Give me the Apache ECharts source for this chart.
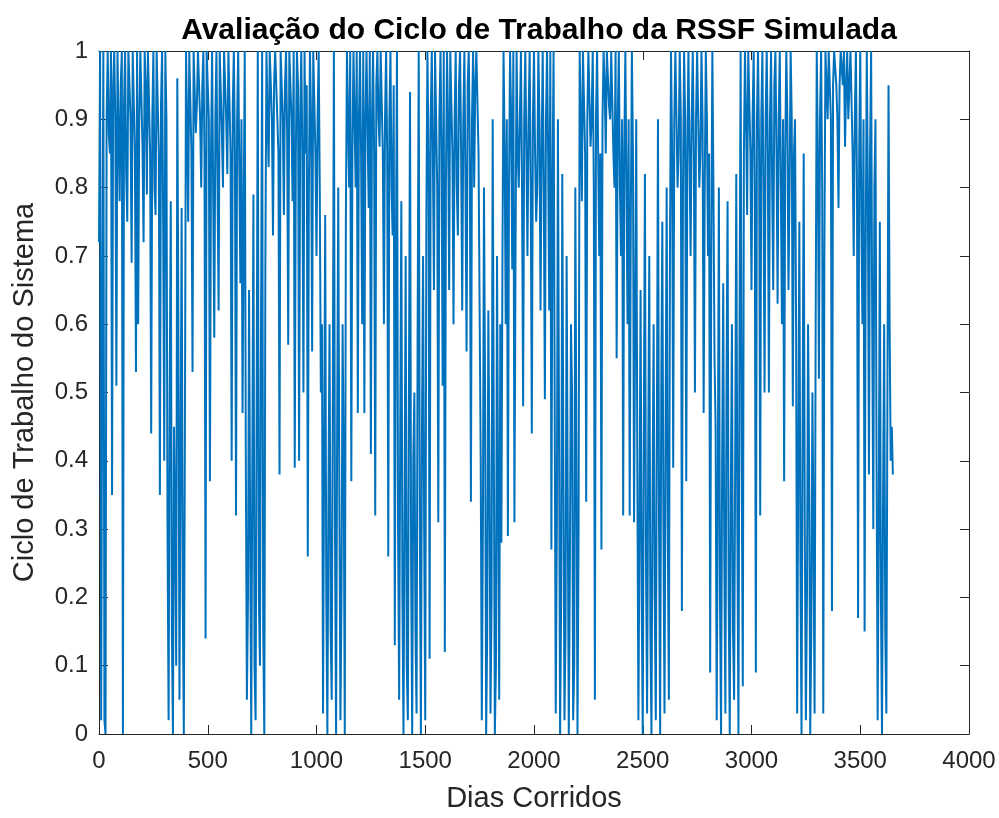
<!DOCTYPE html>
<html>
<head>
<meta charset="utf-8">
<script src="https://cdn.jsdelivr.net/npm/echarts@6/dist/echarts.min.js"></script>
<style>
html,body{margin:0;padding:0;background:#fff;}
#chart{width:999px;height:818px;}
</style>
</head>
<body>
<div id="chart"></div>
<script>
// Duty-cycle values.
// yearN: values on days 0,10,20,... ; midN: values on days 5,15,25,...
const dayStep = 10;
const year1 = [0.72,0.02,1,0,1,0.85,0.35,1,0.51,1,0.95,0,1,0.75,1,0.69,1,0.53,0.6,1,0.86,1,0.79,1,0.44,1,0.76,1,0.35,1,0.4,0.9,0.02,0.78,0,0.3,0.96];
const mid1  = [1,0.6,0.02,0.9,0.88,1,0.95,0.9,1,0.78,1,0.92,0.82,1,0.9,1,0.85,1,0.9,1,0.72,0.95,1,0.85,0.9,0.8,1,0.85,0.92,0.75,1,0.3,0.5,0.15,0.45,0.1,0.6];
const year2 = [0.05,0.77,0,1,0.75,1,0.53,1,0.92,1,0.8,1,0.14,1,0.37,1,0.58,1,0.62,1,0.8,1,0.82,1,0.4,1,0.32,1,0.66,0.47,1,0.05,0.65,0,0.79,0.02,1];
const mid2  = [0.4,0.2,0.45,0.9,1,0.85,1,0.88,1,0.9,0.95,0.85,1,0.9,0.85,1,0.9,0.8,1,0.88,1,0.9,1,0.85,0.92,0.85,0.9,1,0.9,0.75,0.4,0.2,0.3,0.4,0.1,0.5,0.2];
const year3 = [0.1,1,0,1,0.83,1,0.73,1,0.9,0.38,1,0.76,1,0.57,1,0.78,0.39,1,0.4,1,0.5,0.85,0.26,1,0.56,1,0.7,1,0.5,0.03,0.76,0,0.6,0.05,1,0,0.8];
const mid3  = [0.6,0.15,0.7,0.9,1,0.9,0.95,1,0.85,1,0.9,0.95,0.88,1,0.9,1,0.85,0.95,0.9,0.85,1,0.95,0.8,0.9,1,0.85,0.9,0.8,0.6,0.4,0.2,0.35,0.15,0.5,0.3,0.45,0.35];
const year4 = [0.02,0.6,0,1,0.8,0.37,1,0.8,0.47,1,0.6,0.47,1,0.77,0.41,1,0.32,1,0.86,1,0.6,1,0.26,1,0.73,0.13,1,0.05,0.78,0,0.7,0.02,0.94,0,0.5,0.03,1];
const mid4  = [0.2,0.4,0.75,0.9,1,0.85,0.9,1,0.9,0.85,1,0.9,0.88,1,0.9,0.85,0.95,0.9,1,0.85,0.9,0.85,0.9,0.8,0.95,0.7,0.3,0.45,0.2,0.35,0.1,0.5,0.25,0.4,0.15,0.6,0.3];
const year5 = [0,0.7,0.02,1,0.11,1,0.65,1,0.31,1,0.51,0.12,1,0.65,1,0.6,1,0.73,1,0.62,1,0.56,1,0.34,1,0.95,1,0.62,0.02,0.8,0,0.62,0.03,0.9,0,0.7,0.05];
const mid5  = [0.45,0.3,0.75,0.85,0.9,0.85,1,0.8,0.9,0.85,1,0.8,0.9,1,0.85,0.9,0.8,0.95,0.85,0.9,0.8,0.95,0.85,0.9,0.8,1,0.85,0.4,0.3,0.5,0.15,0.4,0.2,0.45,0.1,0.35,0.6];
const year6 = [0.28,1,0.6,0.29,1,0.68,0.31,1,0.8,1,0.48,1,0.7,1,0.44,1,0.75,1,0.62,1,0.49,1,0.62,0.27,1,0.03,0.9,0,0.82,0.02,0.7,0,0.6,0.02,0.8,0,1];
const mid6  = [0.7,0.85,0.9,0.8,0.9,1,0.7,0.85,0.9,0.8,0.9,0.85,0.9,0.8,0.9,0.85,0.8,0.9,0.85,0.8,0.9,0.85,1,0.8,0.5,0.3,0.45,0.2,0.4,0.15,0.35,0.25,0.5,0.1,0.4,0.3,0.9];
const year7 = [0.78,1,0.34,1,0.86,1,0.05,1,0.7,0.27,1,0.85,1,0.9,1,0.8,0.55,1,0.7,0.32,1,0.6,0.32,1,0.31,0.9,0.02,0.65,0,0.82,0.03,0.7,0,0.6,0.02,0.9,0];
const mid7  = [1,0.85,0.9,1,0.9,0.8,0.9,1,0.85,0.9,0.95,1,0.92,1,0.85,1,0.9,0.8,0.9,0.85,0.8,0.9,0.75,0.85,0.6,0.4,0.3,0.2,0.45,0.25,0.4,0.15,0.35,0.2,0.45,0.3,0.5];
const year8 = [0.75,0.03,0.8,0.05,1,0.39,1,0.8,1,0.18,1,0.37,1,0.7,1,0.5,1,0.8,1,0.47,1,0.7,0.09,1,0.55,0.02,0.8,0,0.66,0.03,0.78,0,0.6,0.05,0.82,0,1];
const mid8  = [0.3,0.45,0.3,0.7,0.85,0.9,1,0.85,0.9,0.8,0.9,0.85,1,0.9,0.85,0.9,1,0.85,0.9,0.8,0.9,0.85,0.7,0.8,0.45,0.35,0.2,0.4,0.25,0.5,0.2,0.35,0.15,0.4,0.3,0.6,0.4];
const year9 = [0.07,1,0.76,1,0.65,1,0.09,1,0.32,1,0.5,1,0.5,1,0.65,1,0.63,1,0.6,0.37,1,0.65,1,0.48,0.9,0.03,0.75,0,0.85,0.02,0.6,0,0.5,0.03,1,0.52,1];
const mid9  = [0.85,0.9,1,0.85,0.9,0.8,0.9,0.85,0.9,0.8,0.9,0.85,0.9,0.8,0.95,0.85,0.9,0.8,0.9,0.85,0.9,0.8,0.9,0.85,0.6,0.4,0.25,0.45,0.3,0.2,0.4,0.15,0.3,0.6,0.85,0.9,0.8];
const year10 = [0.03,1,0.9,1,0.18,1,0.95,0.77,1,0.95,0.86,1,0.95,1,0.7,1,0.17,1,0.6,0.15,1,0.38,1,0.3,0.9,0.02,0.75,0,0.6,0.03,0.95,0.4,0.38];
const mid10 = [0.7,0.95,1,0.9,0.95,1,0.9,0.95,1,1,0.95,0.9,1,0.85,0.9,0.8,0.85,0.75,0.9,0.7,0.8,0.85,0.6,0.8,0.4,0.3,0.2,0.35,0.15,0.5,0.6,0.45];

const xTicks = {min:0, max:4000, interval:500};
const yTicks = {min:0, max:1, interval:0.1};

const onTens = [].concat(year1,year2,year3,year4,year5,year6,year7,year8,year9,year10);
const onFives = [].concat(mid1,mid2,mid3,mid4,mid5,mid6,mid7,mid8,mid9,mid10);
const seriesData = [];
onTens.forEach((v,i)=>{
  seriesData.push([i*dayStep, v]);
  if (i < onFives.length) seriesData.push([i*dayStep + dayStep/2, onFives[i]]);
});

const axisColor = '#262626';
const fontFam = '"Liberation Sans", Arial, Helvetica, sans-serif';

function baseAxis(extra){
  return Object.assign({
    type:'value',
    axisLine:{show:true,onZero:false,lineStyle:{color:axisColor,width:1}},
    axisTick:{show:true,inside:true,length:9,lineStyle:{color:axisColor,width:1}},
    splitLine:{show:false},
    axisLabel:{show:false}
  }, extra);
}

const chart = echarts.init(document.getElementById('chart'), null, {renderer:'canvas'});
chart.setOption({
  animation:false,
  backgroundColor:'#ffffff',
  title:{
    text:'Avaliação do Ciclo de Trabalho da RSSF Simulada',
    left:534, top:11, textAlign:'center',
    textStyle:{fontFamily:fontFam,fontWeight:'bold',fontSize:30,color:'#000000'}
  },
  grid:{left:99,right:30,top:51,bottom:73,containLabel:false},
  xAxis:[
    baseAxis({min:xTicks.min,max:xTicks.max,interval:xTicks.interval,position:'bottom',
      name:'Dias Corridos',nameLocation:'middle',nameGap:50,
      nameTextStyle:{fontFamily:fontFam,fontSize:29,color:axisColor},
      axisLabel:{show:true,margin:15,fontFamily:fontFam,fontSize:24,color:axisColor,
        formatter:function(v){return String(v);}}}),
    baseAxis({min:xTicks.min,max:xTicks.max,interval:xTicks.interval,position:'top'})
  ],
  yAxis:[
    baseAxis({min:yTicks.min,max:yTicks.max,interval:yTicks.interval,position:'left',
      name:'Ciclo de Trabalho do Sistema',nameLocation:'middle',nameGap:60,
      nameTextStyle:{fontFamily:fontFam,fontSize:29,color:axisColor},
      axisLabel:{show:true,margin:11,fontFamily:fontFam,fontSize:24,color:axisColor,
        formatter:function(v){return String(Math.round(v*10)/10);}}}),
    baseAxis({min:yTicks.min,max:yTicks.max,interval:yTicks.interval,position:'right'})
  ],
  series:[{
    type:'line',
    xAxisIndex:0,yAxisIndex:0,
    data:seriesData,
    showSymbol:false,
    symbol:'none',
    sampling:null,
    lineStyle:{color:'#0072BD',width:2},
    emphasis:{disabled:true}
  }]
});
</script>
</body>
</html>
